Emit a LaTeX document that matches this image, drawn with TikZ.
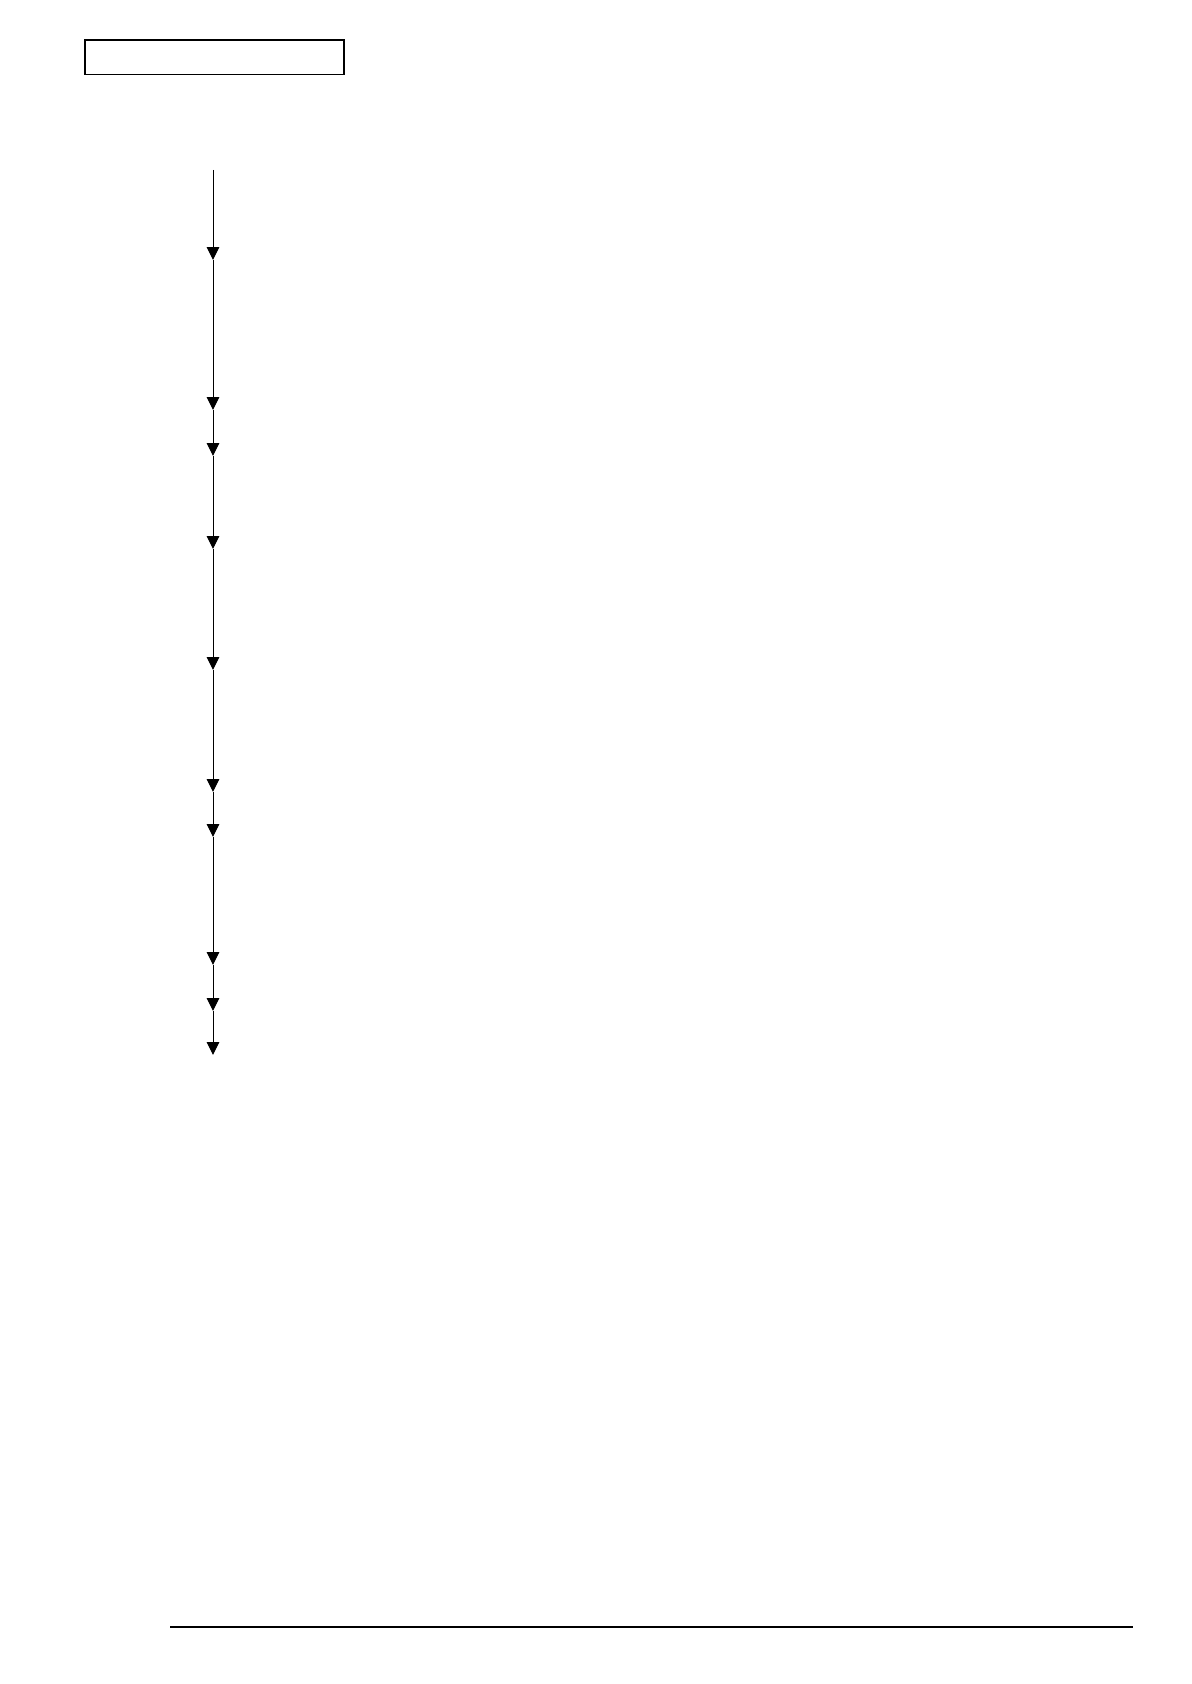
\documentclass[tikz,border=0pt]{standalone}
\usepackage{tikz}
\usetikzlibrary{arrows.meta}

\begin{document}
\begin{tikzpicture}[x=0.5pt, y=-0.5pt,
    flow/.style = {line width=0.5pt, -{Triangle[width=6.2pt, length=6.4pt]}},
    tabbox/.style = {draw, line width=0.65pt},
    rule/.style = {line width=0.75pt}
    ]
    \useasboundingbox (0,0) rectangle (1191,1684);    % 页面大小

    \draw[tabbox] (85,40) rectangle (344,74.5);    % 左上角的框

    \coordinate (s0) at (213,170);
    \coordinate (s1) at (213,260);
    \coordinate (s2) at (213,410);
    \coordinate (s3) at (213,456);
    \coordinate (s4) at (213,549);
    \coordinate (s5) at (213,670);
    \coordinate (s6) at (213,792);
    \coordinate (s7) at (213,837);
    \coordinate (s8) at (213,965);
    \coordinate (s9) at (213,1011);
    \coordinate (s10) at (213,1055);

    % 竖直流程线, 每段一个箭头
    \foreach \a/\b in {s0/s1, s1/s2, s2/s3, s3/s4, s4/s5, s5/s6, s6/s7, s7/s8, s8/s9, s9/s10}
        \draw[flow] (\a) -- (\b);

    \coordinate (L) at (170,1627);
    \coordinate (R) at (1133,1627);
    \draw[rule] (L) -- (R);    % 页脚横线
\end{tikzpicture}
\end{document}
